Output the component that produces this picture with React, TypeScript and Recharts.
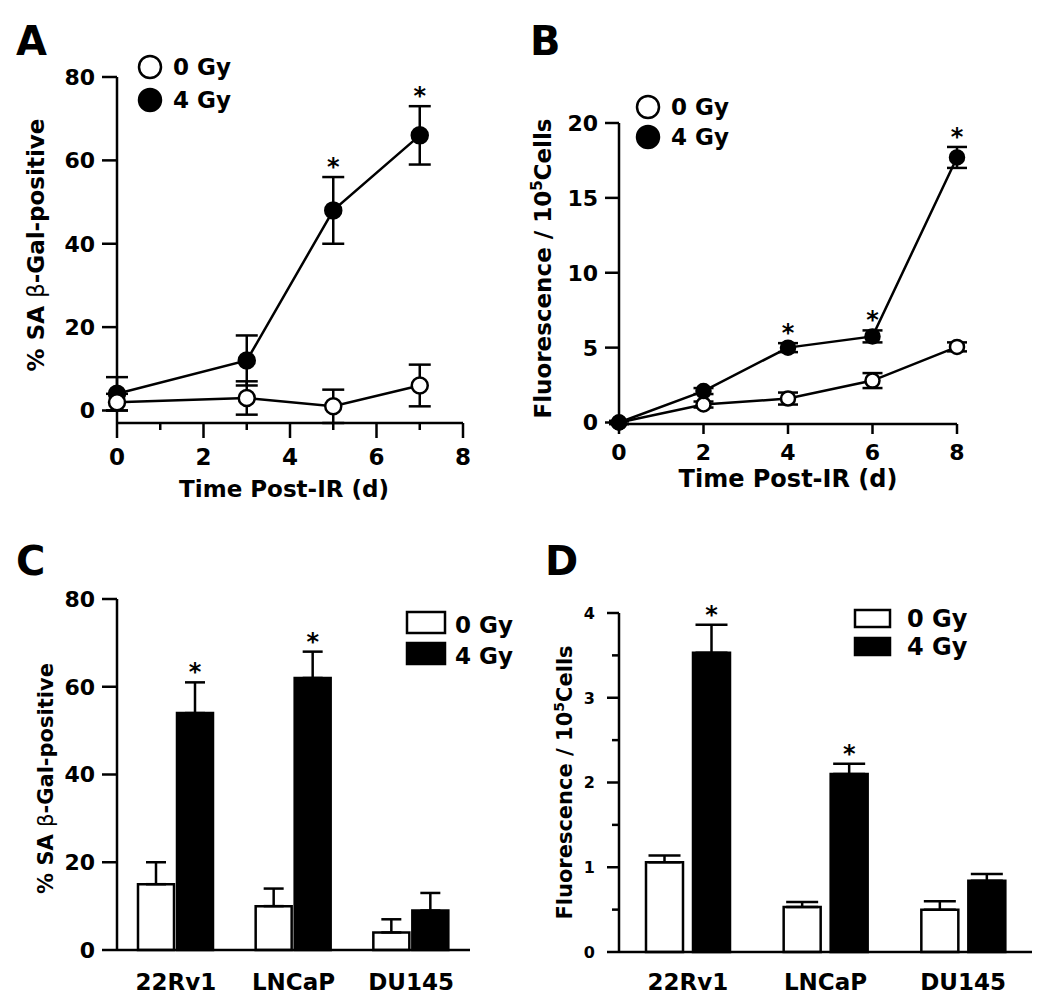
import React from "react";
import {
  LineChart,
  Line,
  BarChart,
  Bar,
  XAxis,
  YAxis,
  ErrorBar,
  Legend,
  ReferenceDot,
  LabelList,
} from "recharts";

const FONT = '"DejaVu Sans", Verdana, sans-serif';
const AXIS = 2.5;

// Panel A: SA beta-Gal positive cells over time
const daysA = [0, 3, 5, 7];
const a0Gy = [2, 3, 1, 6];
const a0GyErr = [2, 4, 4, 5];
const a4Gy = [4, 12, 48, 66];
const a4GyErr = [4, 6, 8, 7];
const a4GySig = [false, false, true, true];
const ticksAy = [0, 20, 40, 60, 80];
const ticksAx = [0, 1, 2, 3, 4, 5, 6, 7, 8];

// Panel B: fluorescence over time
const daysB = [0, 2, 4, 6, 8];
const b0Gy = [0, 1.2, 1.6, 2.8, 5.05];
const b0GyErr = [0.1, 0.2, 0.4, 0.5, 0.3];
const b4Gy = [0, 2.1, 5.0, 5.75, 17.7];
const b4GyErr = [0.1, 0.2, 0.3, 0.4, 0.7];
const b4GySig = [false, false, true, true, true];
const ticksBy = [0, 5, 10, 15, 20];
const ticksBx = [0, 2, 4, 6, 8];

// Panels C and D: cell lines
const cellLines = ["22Rv1", "LNCaP", "DU145"];
const c0Gy = [15, 10, 4];
const c0GyErr = [5, 4, 3];
const c4Gy = [54, 62, 9];
const c4GyErr = [7, 6, 4];
const c4GySig = [true, true, false];
const ticksCy = [0, 20, 40, 60, 80];

const d0Gy = [1.06, 0.53, 0.5];
const d0GyErr = [0.08, 0.06, 0.1];
const d4Gy = [3.53, 2.1, 0.84];
const d4GyErr = [0.33, 0.12, 0.08];
const d4GySig = [true, true, false];
const ticksDy = [0, 0.5, 1, 1.5, 2, 2.5, 3, 3.5, 4];

const dataA = daysA.map((t, i) => ({
  t,
  zero: a0Gy[i],
  zeroErr: a0GyErr[i],
  four: a4Gy[i],
  fourErr: a4GyErr[i],
}));
const dataB = daysB.map((t, i) => ({
  t,
  zero: b0Gy[i],
  zeroErr: b0GyErr[i],
  four: b4Gy[i],
  fourErr: b4GyErr[i],
}));
const dataC = cellLines.map((cell, i) => ({
  cell,
  zero: c0Gy[i],
  zeroErr: [0, c0GyErr[i]],
  four: c4Gy[i],
  fourErr: [0, c4GyErr[i]],
}));
const dataD = cellLines.map((cell, i) => ({
  cell,
  zero: d0Gy[i],
  zeroErr: [0, d0GyErr[i]],
  four: d4Gy[i],
  fourErr: [0, d4GyErr[i]],
}));

const txt = { fontFamily: FONT, fontWeight: 700, fill: "#000" } as const;

type TickOpts = {
  len: number;
  minorLen?: number;
  isMajor?: (v: number) => boolean;
  gap: number;
  size: number;
};

const yTick = (o: TickOpts) => (p: any) => {
  const v = p.payload.value;
  const major = o.isMajor ? o.isMajor(v) : true;
  const l = major ? o.len : o.minorLen ?? 0;
  return (
    <g>
      <line x1={p.x} y1={p.y} x2={p.x - l} y2={p.y} stroke="#000" strokeWidth={AXIS} />
      {major && (
        <text x={p.x - l - o.gap} y={p.y + o.size * 0.36} textAnchor="end" fontSize={o.size} {...txt}>
          {v}
        </text>
      )}
    </g>
  );
};

const xTick = (o: TickOpts) => (p: any) => {
  const v = p.payload.value;
  const major = o.isMajor ? o.isMajor(v) : true;
  const l = major ? o.len : o.minorLen ?? 0;
  return (
    <g>
      {l > 0 && <line x1={p.x} y1={p.y} x2={p.x} y2={p.y + l} stroke="#000" strokeWidth={AXIS} />}
      {major && (
        <text x={p.x} y={p.y + o.gap} textAnchor="middle" fontSize={o.size} {...txt}>
          {v}
        </text>
      )}
    </g>
  );
};

const yLabel = (content: React.ReactNode, bx: number, dyc: number, size: number) => (p: any) => {
  const vb = p.viewBox ?? { x: 0, y: 0, width: 0, height: 0 };
  const cx = vb.x + bx;
  const cy = vb.y + vb.height / 2 + dyc;
  return (
    <text x={cx} y={cy} transform={`rotate(-90 ${cx} ${cy})`} textAnchor="middle" fontSize={size} {...txt}>
      {content}
    </text>
  );
};

const xLabel = (content: string, dxc: number, by: number, size: number) => (p: any) => {
  const vb = p.viewBox ?? { x: 0, y: 0, width: 0, height: 0 };
  return (
    <text x={vb.x + vb.width / 2 + dxc} y={vb.y + by} textAnchor="middle" fontSize={size} {...txt}>
      {content}
    </text>
  );
};

const starShape = (p: any) => (
  <text x={p.cx} y={p.cy - 2} textAnchor="middle" fontSize={24} {...txt}>
    *
  </text>
);

const barStar = (errs: number[], sig: boolean[]) => (p: any) => {
  const { x, y, width, height, value, index } = p;
  if (!sig[index] || !value) return null;
  const top = y - (errs[index] * height) / value;
  return (
    <text x={x + width / 2} y={top - 2} textAnchor="middle" fontSize={24} {...txt}>
      *
    </text>
  );
};

const order = (payload: any[]) =>
  [...(payload ?? [])].sort(
    (a, b) => (a.dataKey === "zero" ? 0 : 1) - (b.dataKey === "zero" ? 0 : 1)
  );

// legends get 10px of padding so the text boxes stay inside their svg
const PAD = 10;

const circleLegend = (gap: number) => (props: any) => (
  <svg width={140} height={gap + 45 + PAD}>
    {order(props.payload).map((it, i) => (
      <g key={i}>
        <circle
          cx={14}
          cy={PAD + 14 + i * gap}
          r={11}
          fill={it.dataKey === "zero" ? "#fff" : "#000"}
          stroke="#000"
          strokeWidth={2.5}
        />
        <text x={37} y={PAD + 22 + i * gap} fontSize={23} {...txt}>
          {it.value}
        </text>
      </g>
    ))}
  </svg>
);

const boxLegend = (w: number, h: number, gap: number, tx: number, size: number) => (props: any) => (
  <svg width={tx + 90} height={gap + h + 20 + PAD}>
    {order(props.payload).map((it, i) => (
      <g key={i}>
        <rect
          x={2}
          y={PAD + 2 + i * gap}
          width={w}
          height={h}
          fill={it.dataKey === "zero" ? "#fff" : "#000"}
          stroke="#000"
          strokeWidth={2.5}
        />
        <text x={tx} y={PAD + 2 + h + i * gap} fontSize={size} {...txt}>
          {it.value}
        </text>
      </g>
    ))}
  </svg>
);

const openDot = (r: number) => ({ r, fill: "#fff", stroke: "#000", strokeWidth: 2.5 });
const fullDot = (r: number) => ({ r, fill: "#000", stroke: "#000", strokeWidth: 2.5 });

const PanelA = () => (
  <LineChart width={520} height={512} data={dataA} margin={{ top: 77, right: 57, bottom: 12, left: 0 }}>
    <XAxis
      dataKey="t"
      type="number"
      domain={[0, 8]}
      ticks={ticksAx}
      interval={0}
      height={77}
      tickSize={0}
      tickMargin={0}
      tickLine={false}
      axisLine={{ stroke: "#000", strokeWidth: AXIS }}
      tick={xTick({ len: 15, minorLen: 7, isMajor: (v) => v % 2 === 0, gap: 42, size: 23 })}
      label={xLabel("Time Post-IR (d)", -6, 74, 23)}
    />
    <YAxis
      type="number"
      domain={[0, 80]}
      ticks={ticksAy}
      interval={0}
      width={117}
      tickSize={0}
      tickMargin={0}
      tickLine={false}
      axisLine={{ stroke: "#000", strokeWidth: AXIS }}
      tick={yTick({ len: 15, gap: 7, size: 22 })}
      label={yLabel(
        <>
          % SA <tspan fontWeight={400}>β</tspan>-Gal-positive
        </>,
        44,
        -5,
        23
      )}
    />
    <Legend
      layout="vertical"
      align="center"
      verticalAlign="middle"
      wrapperStyle={{ left: 136, top: 53 - PAD, width: 140 }}
      content={circleLegend(33)}
    />
    <Line
      dataKey="four"
      name="4 Gy"
      stroke="#000"
      strokeWidth={2.5}
      dot={fullDot(8)}
      activeDot={false}
      isAnimationActive={false}
    >
      <ErrorBar dataKey="fourErr" width={11} stroke="#000" strokeWidth={2.5} direction="y" />
    </Line>
    <Line
      dataKey="zero"
      name="0 Gy"
      stroke="#000"
      strokeWidth={2.5}
      dot={openDot(8)}
      activeDot={false}
      isAnimationActive={false}
    >
      <ErrorBar dataKey="zeroErr" width={11} stroke="#000" strokeWidth={2.5} direction="y" />
    </Line>
    {daysA.map((d, i) =>
      a4GySig[i] ? (
        <ReferenceDot key={d} x={d} y={a4Gy[i] + a4GyErr[i]} shape={starShape} />
      ) : null
    )}
  </LineChart>
);

const PanelB = () => (
  <LineChart width={530} height={500} data={dataB} margin={{ top: 123, right: 93, bottom: 0, left: 0 }}>
    <XAxis
      dataKey="t"
      type="number"
      domain={[0, 8]}
      ticks={ticksBx}
      interval={0}
      height={76}
      tickSize={0}
      tickMargin={0}
      tickLine={false}
      axisLine={{ stroke: "#000", strokeWidth: AXIS }}
      tick={xTick({ len: 10, gap: 36, size: 22 })}
      label={xLabel("Time Post-IR (d)", 0, 63, 24)}
    />
    <YAxis
      type="number"
      domain={[0, 20]}
      ticks={ticksBy}
      interval={0}
      width={99}
      tickSize={0}
      tickMargin={0}
      tickLine={false}
      axisLine={{ stroke: "#000", strokeWidth: AXIS }}
      tick={yTick({ len: 14, gap: 7, size: 22 })}
      label={yLabel(
        <>
          Fluorescence / 10
          <tspan dy={-9} fontSize={15}>
            5
          </tspan>
          <tspan dy={9}>Cells</tspan>
        </>,
        31,
        -5,
        23
      )}
    />
    <Legend
      layout="vertical"
      align="center"
      verticalAlign="middle"
      wrapperStyle={{ left: 114, top: 93 - PAD, width: 140 }}
      content={circleLegend(30)}
    />
    <Line
      dataKey="zero"
      name="0 Gy"
      stroke="#000"
      strokeWidth={2.5}
      dot={openDot(7)}
      activeDot={false}
      isAnimationActive={false}
    >
      <ErrorBar dataKey="zeroErr" width={10} stroke="#000" strokeWidth={2.5} direction="y" />
    </Line>
    <Line
      dataKey="four"
      name="4 Gy"
      stroke="#000"
      strokeWidth={2.5}
      dot={fullDot(7)}
      activeDot={false}
      isAnimationActive={false}
    >
      <ErrorBar dataKey="fourErr" width={10} stroke="#000" strokeWidth={2.5} direction="y" />
    </Line>
    {daysB.map((d, i) =>
      b4GySig[i] ? (
        <ReferenceDot key={d} x={d} y={b4Gy[i] + b4GyErr[i]} shape={starShape} />
      ) : null
    )}
  </LineChart>
);

const PanelC = () => (
  <BarChart
    width={520}
    height={500}
    data={dataC}
    margin={{ top: 99, right: 50, bottom: 0, left: 0 }}
    barSize={36}
    barGap={3}
  >
    <XAxis
      dataKey="cell"
      interval={0}
      height={50}
      tickSize={0}
      tickMargin={0}
      tickLine={false}
      axisLine={{ stroke: "#000", strokeWidth: AXIS }}
      tick={xTick({ len: 0, gap: 40, size: 23 })}
    />
    <YAxis
      type="number"
      domain={[0, 80]}
      ticks={ticksCy}
      interval={0}
      width={117}
      tickSize={0}
      tickMargin={0}
      tickLine={false}
      axisLine={{ stroke: "#000", strokeWidth: AXIS }}
      tick={yTick({ len: 15, gap: 7, size: 22 })}
      label={yLabel(
        <>
          % SA <tspan fontWeight={400}>β</tspan>-Gal-positive
        </>,
        53,
        4,
        21
      )}
    />
    <Legend
      layout="vertical"
      align="center"
      verticalAlign="middle"
      wrapperStyle={{ left: 405, top: 110 - PAD, width: 145 }}
      content={boxLegend(38, 21, 31, 50, 23)}
    />
    <Bar dataKey="zero" name="0 Gy" fill="#fff" stroke="#000" strokeWidth={2.5} isAnimationActive={false}>
      <ErrorBar dataKey="zeroErr" width={10} stroke="#000" strokeWidth={2.5} direction="y" />
    </Bar>
    <Bar dataKey="four" name="4 Gy" fill="#000" stroke="#000" strokeWidth={2.5} isAnimationActive={false}>
      <ErrorBar dataKey="fourErr" width={10} stroke="#000" strokeWidth={2.5} direction="y" />
      <LabelList dataKey="four" content={barStar(c4GyErr, c4GySig)} />
    </Bar>
  </BarChart>
);

const PanelD = () => (
  <BarChart
    width={530}
    height={500}
    data={dataD}
    margin={{ top: 113, right: 18, bottom: 0, left: 0 }}
    barSize={37}
    barGap={10}
  >
    <XAxis
      dataKey="cell"
      interval={0}
      height={48}
      tickSize={0}
      tickMargin={0}
      tickLine={false}
      axisLine={{ stroke: "#000", strokeWidth: AXIS }}
      tick={xTick({ len: 0, gap: 38, size: 23 })}
    />
    <YAxis
      type="number"
      domain={[0, 4]}
      ticks={ticksDy}
      interval={0}
      width={99}
      tickSize={0}
      tickMargin={0}
      tickLine={false}
      axisLine={{ stroke: "#000", strokeWidth: AXIS }}
      tick={yTick({ len: 12, minorLen: 7, isMajor: (v) => Number.isInteger(v), gap: 12, size: 16 })}
      label={yLabel(
        <>
          Fluorescence / 10
          <tspan dy={-8} fontSize={14}>
            5
          </tspan>
          <tspan dy={8}>Cells</tspan>
        </>,
        52,
        0,
        21
      )}
    />
    <Legend
      layout="vertical"
      align="center"
      verticalAlign="middle"
      wrapperStyle={{ left: 333, top: 108 - PAD, width: 150 }}
      content={boxLegend(35, 17, 28, 54, 24)}
    />
    <Bar dataKey="zero" name="0 Gy" fill="#fff" stroke="#000" strokeWidth={2.5} isAnimationActive={false}>
      <ErrorBar dataKey="zeroErr" width={16} stroke="#000" strokeWidth={2.5} direction="y" />
    </Bar>
    <Bar dataKey="four" name="4 Gy" fill="#000" stroke="#000" strokeWidth={2.5} isAnimationActive={false}>
      <ErrorBar dataKey="fourErr" width={16} stroke="#000" strokeWidth={2.5} direction="y" />
      <LabelList dataKey="four" content={barStar(d4GyErr, d4GySig)} />
    </Bar>
  </BarChart>
);

const letters = [
  { t: "A", x: 16, y: 55 },
  { t: "B", x: 530, y: 55 },
  { t: "C", x: 16, y: 575 },
  { t: "D", x: 545, y: 575 },
];

const App: React.FC = () => (
  <div style={{ position: "absolute", left: 0, top: 0, width: 1050, height: 1000, background: "#fff" }}>
    <svg width={1050} height={1000} style={{ position: "absolute", left: 0, top: 0 }}>
      {letters.map((l) => (
        <text key={l.t} x={l.x} y={l.y} fontSize={40} {...txt}>
          {l.t}
        </text>
      ))}
    </svg>
    <div style={{ position: "absolute", left: 520, top: 0 }}>
      <PanelB />
    </div>
    <div style={{ position: "absolute", left: 0, top: 500 }}>
      <PanelC />
    </div>
    <div style={{ position: "absolute", left: 520, top: 500 }}>
      <PanelD />
    </div>
    <div style={{ position: "absolute", left: 0, top: 0 }}>
      <PanelA />
    </div>
  </div>
);

export default App;
